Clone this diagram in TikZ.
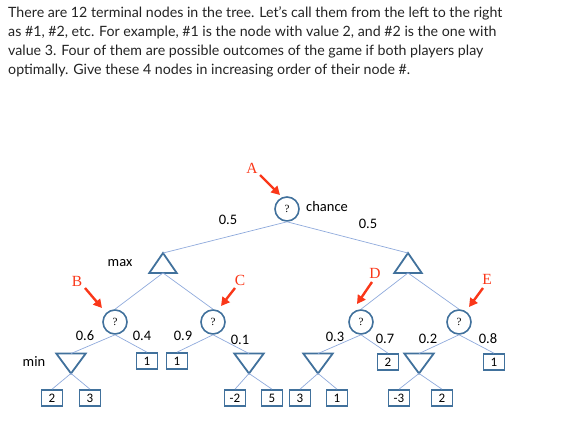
\documentclass[tikz,border=0pt]{standalone}
\usepackage{fontspec}
\setmainfont{Lato}
\newfontfamily\calib{Carlito}
\newfontfamily\tms{Liberation Serif}
\usetikzlibrary{arrows.meta}
\definecolor{shapeblue}{RGB}{65,113,156}
\definecolor{edgeblue}{RGB}{143,170,220}
\definecolor{redarrow}{RGB}{250,55,25}
\definecolor{qtext}{RGB}{35,35,35}
\tikzset{
  qline/.style={anchor=base west, inner sep=0pt, text=qtext, font=\fontsize{14.2}{19}\selectfont},
  chancenode/.style={circle, draw=shapeblue, line width=1.6pt, minimum size=24pt, inner sep=0pt, font=\tms\fontsize{11}{11}\selectfont},
  trinode/.style={rectangle, minimum width=27pt, minimum height=19.5pt, inner sep=0pt},
  shapeline/.style={draw=shapeblue, line width=1.8pt, line join=miter},
  leafbox/.style={rectangle, draw=shapeblue, line width=1.6pt, minimum width=21pt, minimum height=16pt, inner sep=0pt, font=\calib\fontsize{13}{13}\selectfont},
  edge/.style={draw=edgeblue, line width=0.7pt},
  lbl/.style={inner sep=0pt, font=\calib\fontsize{14.5}{14.5}\selectfont},
  redlbl/.style={inner sep=0pt, text=redarrow, font=\tms\fontsize{15.5}{15.5}\selectfont},
  redarr/.style={draw=redarrow, line width=2.4pt, -{Triangle[length=8.5pt,width=9pt]}}
}
\begin{document}
\begin{tikzpicture}[x=1pt,y=-1pt]
\useasboundingbox (0,0) rectangle (577,427);
% question text
\node[qline] (t1) at (8,18) {There are 12 terminal nodes in the tree. Let{\char"0027}s call them from the left to the right};
\node[qline] (t2) at (8,37) {as \#1, \#2, etc. For example, \#1 is the node with value 2, and \#2 is the one with};
\node[qline] (t3) at (8,56) {value 3. Four of them are possible outcomes of the game if both players play};
\node[qline] (t4) at (8,75) {optimally. Give these 4 nodes in increasing order of their node \#.};

% root
\node[chancenode] (root) at (287,209) {?};
\node[lbl, anchor=west] (chl) at (306,207) {chance};
% max nodes
\node[trinode] (maxL) at (163,263) {};
\node[trinode] (maxR) at (408,263) {};
\node[lbl] (maxlbl) at (120,263) {max};
% chance nodes level 2
\node[chancenode] (B) at (115,322) {?};
\node[chancenode] (C) at (213,322) {?};
\node[chancenode] (D) at (361,322) {?};
\node[chancenode] (E) at (459,322) {?};
% min nodes
\node[trinode, minimum width=29pt] (minB) at (71,363.5) {};
\node[trinode, minimum width=29pt] (minC) at (249,363.5) {};
\node[trinode, minimum width=29pt] (minD) at (318,363.5) {};
\node[trinode, minimum width=29pt] (minE) at (419,363.5) {};
\node[lbl] (minlbl) at (34,362) {min};
% level 3 boxes
\node[leafbox] (b1) at (147,361) {1};
\node[leafbox] (c1) at (177,361) {1};
\node[leafbox] (d2) at (388,362) {2};
\node[leafbox] (e1) at (494,362) {1};
% leaves
\node[leafbox] (l1) at (52,398) {2};
\node[leafbox] (l2) at (90,398) {3};
\node[leafbox] (l3) at (235,398) {-2};
\node[leafbox] (l4) at (272,398) {5};
\node[leafbox] (l5) at (300,398) {3};
\node[leafbox] (l6) at (337,398) {1};
\node[leafbox] (l7) at (399,398) {-3};
\node[leafbox] (l8) at (442,398) {2};

% triangles
\foreach \n in {maxL,maxR}
  \draw[shapeline] (\n.south west) -- (\n.south east) -- (\n.north) -- cycle;
\foreach \n in {minB,minC,minD,minE}
  \draw[shapeline] (\n.north west) -- (\n.north east) -- (\n.south) -- cycle;

% edges
\draw[edge] (root.south) -- (maxL.north);
\draw[edge] (root.south) -- (maxR.north);
\draw[edge] (maxL.south) -- (B.north);
\draw[edge] (maxL.south) -- (C.north);
\draw[edge] (maxR.south) -- (D.north);
\draw[edge] (maxR.south) -- (E.north);
\draw[edge] (B.south) -- (minB.north);
\draw[edge] (B.south) -- (b1.north);
\draw[edge] (C.south) -- (c1.north);
\draw[edge] (C.south) -- (minC.north);
\draw[edge] (D.south) -- (minD.north);
\draw[edge] (D.south) -- (d2.north);
\draw[edge] (E.south) -- (minE.north);
\draw[edge] (E.south) -- (e1.north);
\draw[edge] (minB.south) -- (l1.north);
\draw[edge] (minB.south) -- (l2.north);
\draw[edge] (minC.south) -- (l3.north);
\draw[edge] (minC.south) -- (l4.north);
\draw[edge] (minD.south) -- (l5.north);
\draw[edge] (minD.south) -- (l6.north);
\draw[edge] (minE.south) -- (l7.north);
\draw[edge] (minE.south) -- (l8.north);

% probabilities
\node[lbl] (p0l) at (228,220) {0.5};
\node[lbl] (p0r) at (368,224) {0.5};
\node[lbl] (p1) at (85,336) {0.6};
\node[lbl] (p2) at (142,336) {0.4};
\node[lbl] (p3) at (183,336) {0.9};
\node[lbl] (p4) at (240,340) {0.1};
\node[lbl] (p5) at (335,337) {0.3};
\node[lbl] (p6) at (385,339) {0.7};
\node[lbl] (p7) at (428,339) {0.2};
\node[lbl] (p8) at (488,339) {0.8};

% red labels and arrows
\node[redlbl] (LA) at (252,168) {A};
\node[redlbl] (LB) at (77,281) {B};
\node[redlbl] (LC) at (240,280) {C};
\node[redlbl] (LD) at (375,273) {D};
\node[redlbl] (LE) at (487,279) {E};
\coordinate (aA1) at (260,175); \coordinate (aA2) at (280,195);
\coordinate (aB1) at (85,288);  \coordinate (aB2) at (102,308);
\coordinate (aC1) at (235,288); \coordinate (aC2) at (221,306);
\coordinate (aD1) at (372,282); \coordinate (aD2) at (357,304);
\coordinate (aE1) at (483,288); \coordinate (aE2) at (469,307);
\draw[redarr] (aA1) -- (aA2);
\draw[redarr] (aB1) -- (aB2);
\draw[redarr] (aC1) -- (aC2);
\draw[redarr] (aD1) -- (aD2);
\draw[redarr] (aE1) -- (aE2);
\end{tikzpicture}
\end{document}
